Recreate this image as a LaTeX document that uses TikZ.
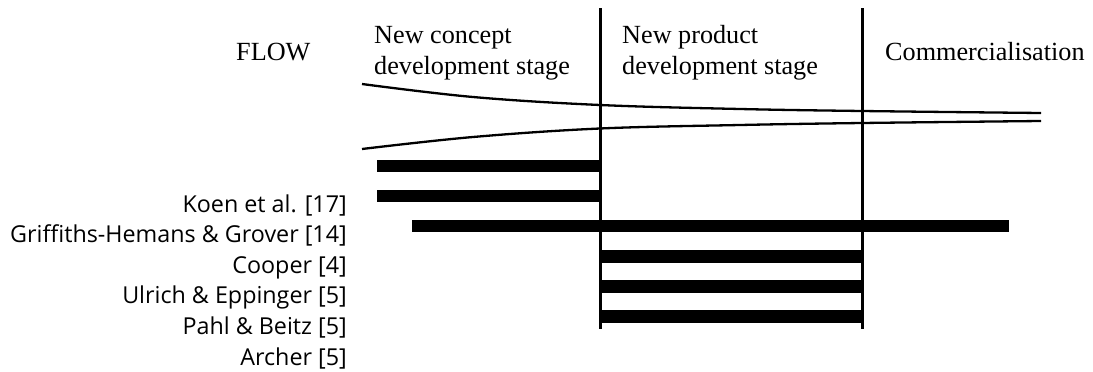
\documentclass[tikz,border=0pt]{standalone}
\usepackage{fontspec}
\setmainfont{Liberation Serif}
\newfontfamily\labelfont{Open Sans}
\begin{document}
\begin{tikzpicture}[x=1pt,y=-1pt,
  stagetext/.style={anchor=base west, inner sep=0pt, font=\fontsize{26.2}{30}\selectfont},
  reftext/.style={anchor=base east, inner sep=0pt, font=\labelfont\fontsize{23.3}{26}\selectfont},
  divider/.style={line width=3pt},
  flowline/.style={line width=2.3pt},
  bar/.style={line width=12.5pt}]
\useasboundingbox (0,0) rectangle (1093,372);

% stage headings
\node[stagetext] (flow) at (236,60) {FLOW};
\node[stagetext] (ncd1) at (374,43) {New concept};
\node[stagetext] (ncd2) at (374,74) {development stage};
\node[stagetext] (npd1) at (622,43) {New product};
\node[stagetext] (npd2) at (622,74) {development stage};
\node[stagetext] (comm) at (885,60) {Commercialisation};

% stage dividers
\coordinate (d1top) at (600,8);
\coordinate (d1bot) at (600,329);
\coordinate (d2top) at (862.5,8);
\coordinate (d2bot) at (862.5,329);
\draw[divider] (d1top) -- (d1bot);
\draw[divider] (d2top) -- (d2bot);

% narrowing funnel
\draw[flowline] plot[smooth, tension=0.6] coordinates
  {(362,84) (473,97) (600,105) (740,109) (862,111) (1041,113)};
\draw[flowline] plot[smooth, tension=0.6] coordinates
  {(362,149) (473,137) (600,128.5) (740,125) (862,123) (1041,121)};

% model coverage bars
\coordinate (b1s) at (377,166);
\coordinate (b2s) at (377,196);
\coordinate (b3s) at (412,226);
\coordinate (b3e) at (1009,226);
\draw[bar] (b1s) -- (b1s -| d1top);
\draw[bar] (b2s) -- (b2s -| d1top);
\draw[bar] (b3s) -- (b3e);
\foreach \y in {256.3,286.3,316.3}
  \draw[bar] (d1top |- 0,\y) -- (d2top |- 0,\y);

% references
\node[reftext] (koen)  at (347,212) {Koen et al. [17]};
\node[reftext] (griff) at (347,242) {Griffiths-Hemans \& Grover [14]};
\node[reftext] (coop)  at (347,273) {Cooper [4]};
\node[reftext] (ulr)   at (347,303) {Ulrich \& Eppinger [5]};
\node[reftext] (pahl)  at (347,334) {Pahl \& Beitz [5]};
\node[reftext] (arch)  at (347,365) {Archer [5]};
\end{tikzpicture}
\end{document}
